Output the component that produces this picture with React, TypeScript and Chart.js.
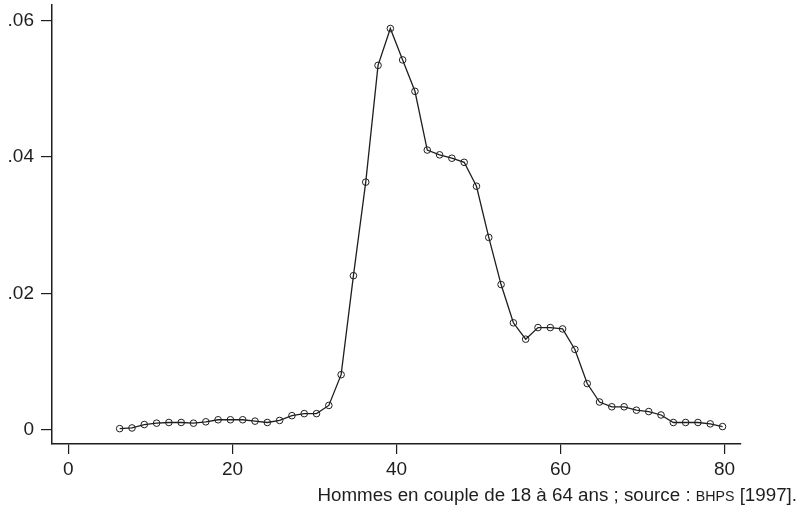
import { useEffect, useRef } from 'react';
import { Chart, registerables } from 'chart.js';

Chart.register(...registerables);

// Horizontal positions of the estimation points
const xValues = [
  6.25, 7.75, 9.25, 10.75, 12.25, 13.75, 15.25, 16.75, 18.25, 19.75,
  21.25, 22.75, 24.25, 25.75, 27.25, 28.75, 30.25, 31.75, 33.25, 34.75,
  36.25, 37.75, 39.25, 40.75, 42.25, 43.75, 45.25, 46.75, 48.25, 49.75,
  51.25, 52.75, 54.25, 55.75, 57.25, 58.75, 60.25, 61.75, 63.25, 64.75,
  66.25, 67.75, 69.25, 70.75, 72.25, 73.75, 75.25, 76.75, 78.25, 79.75,
];

// Density values
const densities = [
  0.0002, 0.0003, 0.0008, 0.0010, 0.0011, 0.0011, 0.0010, 0.0012, 0.0015, 0.0015,
  0.0015, 0.0013, 0.0011, 0.0014, 0.0021, 0.0024, 0.0024, 0.0036, 0.0081, 0.0226,
  0.0363, 0.0534, 0.0588, 0.0542, 0.0496, 0.0410, 0.0403, 0.0398, 0.0392, 0.0357,
  0.0282, 0.0213, 0.0157, 0.0133, 0.0150, 0.0150, 0.0148, 0.0118, 0.0068, 0.0041,
  0.0034, 0.0034, 0.0029, 0.0027, 0.0022, 0.0011, 0.0011, 0.0011, 0.0009, 0.0005,
];

const xTickValues = [0, 20, 40, 60, 80];
const xTickLabels = ['0', '20', '40', '60', '80'];
const yTickValues = [0, 0.02, 0.04, 0.06];
const yTickLabels = ['0', '.02', '.04', '.06'];

const captionText = 'Hommes en couple de 18 à 64 ans ; source : ';
const captionSource = 'BHPS';
const captionYear = ' [1997].';

const FONT = "'Liberation Sans', Arial, Helvetica, sans-serif";
const INK = '#1e1e1e';

export default function App() {
  const canvasRef = useRef<HTMLCanvasElement | null>(null);

  useEffect(() => {
    const canvas = canvasRef.current;
    if (!canvas) return;
    const points = xValues.map((x, i) => ({ x, y: densities[i] }));
    const chart = new Chart(canvas, {
      type: 'line',
      data: {
        datasets: [
          {
            data: points,
            borderColor: INK,
            borderWidth: 1.3,
            pointRadius: 3.3,
            pointBorderWidth: 1,
            pointBorderColor: INK,
            pointBackgroundColor: 'rgba(0,0,0,0)',
            tension: 0,
            fill: false,
          },
        ],
      },
      options: {
        responsive: false,
        animation: false,
        events: [],
        layout: { padding: { left: 0, right: 61, top: 5, bottom: 28 } },
        plugins: {
          legend: { display: false },
          tooltip: { enabled: false },
          title: { display: false },
        },
        scales: {
          x: {
            type: 'linear',
            min: -2,
            max: 82,
            afterBuildTicks: (scale: any) => {
              scale.ticks = xTickValues.map((v) => ({ value: v }));
            },
            afterFit: (scale: any) => {
              scale.height = 40;
              scale.paddingLeft = 0;
              scale.paddingRight = 0;
            },
            ticks: {
              autoSkip: false,
              maxRotation: 0,
              padding: 4,
              color: INK,
              font: { family: FONT, size: 19 },
              callback: (v: any) => {
                const i = xTickValues.indexOf(Number(v));
                return i >= 0 ? xTickLabels[i] : '';
              },
            },
            grid: {
              drawOnChartArea: false,
              drawTicks: true,
              tickLength: 10,
              color: INK,
              lineWidth: 1.2,
            },
            border: { display: true, color: INK, width: 1.5 },
          },
          y: {
            type: 'linear',
            min: -0.00205,
            max: 0.06224,
            afterBuildTicks: (scale: any) => {
              scale.ticks = yTickValues.map((v) => ({ value: v }));
            },
            afterFit: (scale: any) => {
              scale.width = 52;
              scale.paddingTop = 0;
              scale.paddingBottom = 0;
            },
            ticks: {
              autoSkip: false,
              padding: 7,
              color: INK,
              font: { family: FONT, size: 19 },
              callback: (v: any) => {
                const i = yTickValues.findIndex((t) => Math.abs(t - Number(v)) < 1e-9);
                return i >= 0 ? yTickLabels[i] : '';
              },
            },
            grid: {
              drawOnChartArea: false,
              drawTicks: true,
              tickLength: 11,
              color: INK,
              lineWidth: 1.2,
            },
            border: { display: true, color: INK, width: 1.5 },
          },
        },
      },
    });
    return () => chart.destroy();
  }, []);

  return (
    <div
      style={{
        position: 'fixed',
        left: 0,
        top: 0,
        width: 802,
        height: 512,
        background: '#ffffff',
        overflow: 'hidden',
      }}
    >
      <canvas
        ref={canvasRef}
        width={802}
        height={512}
        style={{ display: 'block', width: 802, height: 512 }}
      />
      <div
        style={{
          position: 'absolute',
          right: 5,
          top: 486,
          fontFamily: FONT,
          fontSize: 18.75,
          lineHeight: '18.5px',
          color: INK,
          whiteSpace: 'nowrap',
        }}
      >
        {captionText}
        <span style={{ fontSize: 14.2 }}>{captionSource}</span>
        {captionYear}
      </div>
    </div>
  );
}
